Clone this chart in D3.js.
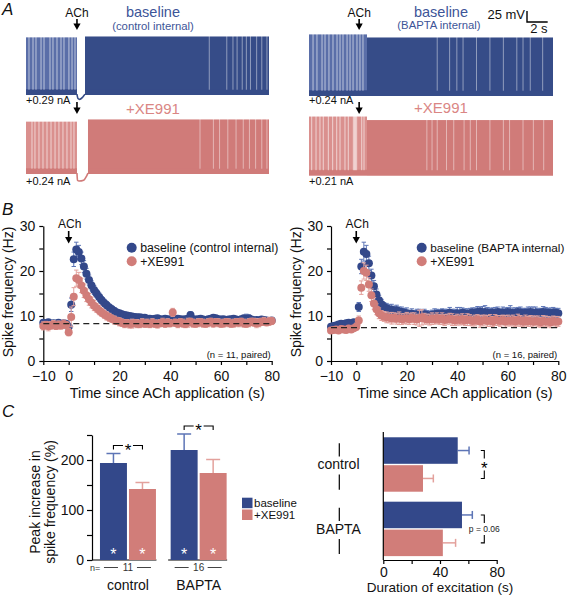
<!DOCTYPE html>
<html><head><meta charset="utf-8">
<script src="https://cdn.jsdelivr.net/npm/d3@7"></script>
<style>
body{margin:0;background:#fff}
svg{display:block}
text{font-family:"Liberation Sans",Arial,Helvetica,sans-serif}
</style>
</head><body>
<svg id="c" width="572" height="597"></svg>
<script>
// ================= DATA =================
// ---- Panel A: example traces (time in s from trace start, voltage in mV) ----
const traceNames = ["control baseline", "control +XE991", "BAPTA baseline", "BAPTA +XE991"];
const traceDuration = 23.6;
const traceAchArrow = [4.95, 4.95, 4.85, 4.85];
const tracePreEnd = [4.95, 4.95, 5.61, 5.61];
const tracePostStart = [5.73, 6.02, 5.61, 5.61];
const tracePeakPre = [61, 49, 70, 64];
const tracePeakPost = [63, 54, 63, 56];
const traceTrough = [-70, -70, -70, -70];
const traceHoldCurrent = ["+0.29 nA", "+0.24 nA", "+0.24 nA", "+0.21 nA"];
const preGaps = [
  [0.29, 0.68, 0.97, 1.46, 1.75, 2.33, 2.62, 3.01, 3.40, 3.69, 4.17, 4.47, 4.76],
  [0.58, 0.87, 1.26, 1.65, 2.04, 2.43, 2.82, 3.20, 3.59, 3.98, 4.37, 4.66],
  [0.39, 0.77, 1.26, 1.55, 1.93, 2.32, 2.71, 3.00, 3.29, 3.68, 3.97, 4.26, 4.64, 4.93, 5.22],
  [0.26, 0.68, 1.06, 1.38, 1.87, 2.29, 2.68, 3.00, 3.48, 3.80, 4.29, 4.40, 4.50, 4.61, 5.10, 5.32]
];
const postGaps = [
  [17.8, 19.5, 20.1, 20.5, 21.0, 21.4, 21.8, 22.4, 22.9, 23.4],
  [16.9, 18.2, 18.8, 19.6, 20.4, 21.1, 21.7, 22.3, 22.9, 23.4],
  [12.4, 13.6, 14.3, 14.9, 16.2, 17.5, 18.8, 20.1, 20.7, 21.4, 22.6],
  [11.4, 11.9, 12.4, 13.3, 14.0, 15.0, 15.6, 16.2, 17.5, 18.8, 19.4, 20.7, 21.7, 22.7]
];
const traceDips = [
  [[4.95, -68], [5.05, -78], [5.2, -80], [5.5, -75], [5.73, -68]],
  [[4.95, -68], [5.0, -84], [5.15, -86], [5.6, -84], [5.9, -74], [6.02, -68]],
  [],
  []
];

// ---- Panel B: spike frequency time course (Hz) ----
const timeB = d3.range(-10, 81);
const ctlBaseline = [
  8.5, 8.3, 8.6, 8.2, 8.4, 8.3, 8.5, 8.2, 8.4, 8.3,
  7.6, 12.5, 22.6, 24.8, 24.2, 22.8, 21.0, 19.4, 18.0, 16.8, 15.8,
  15.0, 14.2, 13.5, 12.9, 12.4, 11.9, 11.5, 11.1, 10.8, 10.6,
  10.4, 10.2, 10.1, 10.0, 9.9, 9.8, 9.7, 9.7, 9.6, 9.6,
  9.4, 9.4, 9.3, 9.4, 9.5, 9.3, 9.2, 9.4, 9.3, 9.2,
  9.3, 9.2, 9.4, 9.3, 9.2, 9.3, 9.4, 10.2, 9.3, 9.2,
  9.3, 9.4, 9.2, 9.1, 9.3, 9.4, 9.6, 9.5, 9.3, 9.2,
  9.3, 9.1, 9.2, 9.3, 9.4, 9.2, 9.1, 9.3, 9.5, 9.4,
  9.5, 9.2, 9.0, 9.1, 9.0, 9.2, 9.1, 9.0, 8.9, 9.0
];
const ctlBaselineErr = [
  0.6, 0.5, 0.6, 0.5, 0.6, 0.5, 0.6, 0.5, 0.6, 0.5,
  0.8, 1.5, 1.6, 1.6, 1.5, 1.4, 1.3, 1.2, 1.1, 1.0, 1.0,
  0.9, 0.9, 0.8, 0.8, 0.8, 0.7, 0.7, 0.7, 0.6, 0.6,
  0.6, 0.5, 0.6, 0.5, 0.6, 0.5, 0.6, 0.5, 0.6, 0.5,
  0.5, 0.6, 0.5, 0.6, 0.5, 0.6, 0.5, 0.6, 0.5, 0.6,
  0.6, 0.5, 0.6, 0.5, 0.6, 0.5, 0.6, 0.7, 0.5, 0.6,
  0.5, 0.6, 0.5, 0.6, 0.5, 0.6, 0.5, 0.6, 0.5, 0.6,
  0.5, 0.6, 0.5, 0.6, 0.5, 0.6, 0.5, 0.6, 0.5, 1.0,
  0.7, 0.6, 0.5, 0.6, 0.5, 0.6, 0.5, 0.6, 0.5, 0.6
];
const ctlXE = [
  7.8, 8.0, 7.7, 7.9, 8.1, 7.8, 8.0, 7.9, 8.2, 8.0,
  6.4, 9.8, 14.3, 18.4, 18.0, 16.8, 15.6, 14.6, 13.7, 13.0, 12.3,
  11.8, 11.3, 10.8, 10.4, 10.0, 9.7, 9.4, 9.1, 8.9, 8.7,
  8.5, 8.3, 8.4, 8.2, 8.3, 8.4, 8.3, 8.2, 8.5, 8.3,
  8.4, 8.2, 8.5, 8.3, 8.2, 8.4, 8.6, 8.3, 8.5, 8.4,
  10.8, 8.5, 8.3, 8.6, 8.4, 8.2, 8.5, 8.7, 8.4, 8.3,
  8.5, 8.6, 8.4, 8.3, 8.5, 8.7, 8.4, 8.6, 8.5, 8.3,
  8.4, 8.6, 8.5, 8.3, 8.4, 8.6, 8.5, 8.7, 8.4, 8.3,
  8.5, 8.7, 8.6, 8.4, 8.5, 8.7, 8.8, 8.6, 8.8, 8.9
];
const ctlXEErr = [
  0.9, 0.8, 1.0, 0.8, 0.9, 0.8, 0.9, 0.8, 0.9, 0.8,
  0.8, 2.2, 2.0, 1.8, 1.7, 1.6, 1.5, 1.4, 1.3, 1.2, 1.1,
  1.0, 1.0, 0.9, 0.9, 0.9, 0.9, 0.8, 0.9, 0.8, 0.9,
  0.8, 0.9, 0.8, 0.9, 1.0, 0.8, 0.9, 0.8, 0.9, 0.8,
  0.9, 0.8, 0.9, 0.8, 0.9, 0.8, 0.9, 0.8, 0.9, 0.8,
  0.9, 0.8, 0.9, 0.8, 0.9, 0.8, 1.0, 0.8, 0.9, 0.8,
  0.9, 0.8, 0.9, 0.8, 0.9, 0.8, 0.9, 0.8, 0.9, 0.8,
  0.9, 0.8, 0.9, 0.8, 0.9, 0.8, 0.9, 0.8, 0.9, 0.8,
  0.9, 0.8, 0.9, 1.0, 0.9, 0.8, 0.9, 0.8, 0.9, 0.8
];
const baptaBaseline = [
  7.6, 7.8, 7.9, 8.1, 8.3, 8.2, 8.4, 8.5, 8.3, 8.6,
  8.4, 12.0, 21.0, 24.3, 23.8, 21.7, 19.0, 16.6, 14.8, 13.5, 12.6,
  12.0, 11.7, 11.5, 11.4, 11.2, 11.3, 11.0, 10.9, 10.7, 10.6,
  10.3, 10.5, 10.2, 10.4, 10.3, 10.1, 10.4, 10.2, 10.0, 10.3,
  10.4, 10.5, 10.3, 10.6, 10.4, 10.5, 10.7, 10.5, 10.4, 10.6,
  10.5, 10.7, 10.6, 10.4, 10.6, 10.8, 10.7, 10.9, 11.0, 10.8,
  10.9, 10.7, 10.6, 10.8, 10.7, 10.9, 10.6, 10.8, 10.7, 10.9,
  10.8, 10.6, 10.7, 10.9, 10.8, 10.6, 10.7, 10.8, 10.9, 10.7,
  10.8, 10.6, 10.7, 10.9, 10.8, 10.7, 10.6, 10.8, 10.7, 10.6
];
const baptaBaselineErr = [
  0.5, 0.6, 0.5, 0.6, 0.5, 0.6, 0.5, 0.6, 0.5, 0.6,
  0.6, 1.0, 1.6, 2.1, 1.9, 1.6, 1.4, 1.3, 1.2, 1.1, 1.1,
  1.0, 1.1, 1.0, 1.2, 1.0, 1.1, 1.0, 1.1, 1.0, 1.2,
  1.0, 1.1, 1.0, 1.1, 1.2, 1.0, 1.1, 1.0, 1.1, 1.0,
  1.2, 1.0, 1.1, 1.0, 1.1, 1.0, 1.2, 1.0, 1.1, 1.3,
  1.4, 1.1, 1.0, 1.2, 1.1, 1.0, 1.1, 1.2, 1.0, 1.3,
  1.4, 1.2, 1.1, 1.0, 1.2, 1.1, 1.0, 1.2, 1.1, 1.0,
  1.5, 1.2, 1.1, 1.0, 1.2, 1.1, 1.0, 1.2, 1.1, 1.3,
  1.2, 1.1, 1.0, 1.2, 1.1, 1.0, 1.2, 1.1, 1.0, 1.1
];
const baptaXE = [
  6.8, 6.9, 7.0, 6.8, 7.1, 7.0, 6.9, 7.2, 7.0, 7.3,
  7.6, 9.0, 16.3, 20.0, 19.6, 17.0, 14.6, 12.8, 11.5, 10.6, 10.1,
  9.9, 9.7, 9.6, 9.5, 9.6, 9.4, 9.5, 9.3, 9.4, 9.5,
  9.3, 9.6, 9.4, 9.2, 9.5, 9.7, 9.4, 9.3, 9.2, 9.4,
  9.3, 9.5, 9.2, 9.4, 9.1, 9.3, 9.4, 9.2, 9.0, 9.2,
  9.1, 9.3, 9.0, 9.2, 9.1, 8.9, 9.0, 9.2, 8.8, 9.0,
  9.1, 8.9, 9.0, 8.8, 9.1, 9.0, 8.9, 9.1, 8.8, 9.0,
  8.9, 9.0, 8.8, 9.1, 8.9, 8.7, 9.0, 8.8, 8.9, 8.7,
  8.9, 8.8, 8.6, 8.9, 8.7, 8.8, 8.6, 8.9, 8.7, 8.8
];
const baptaXEErr = [
  0.6, 0.5, 0.6, 0.5, 0.6, 0.5, 0.6, 0.5, 0.6, 0.5,
  0.8, 1.0, 1.5, 1.8, 1.7, 1.5, 1.4, 1.3, 1.2, 1.2, 1.1,
  1.1, 1.2, 1.1, 1.3, 1.1, 1.2, 1.4, 1.2, 1.1, 1.3,
  1.2, 1.1, 1.3, 1.2, 1.8, 1.7, 1.2, 1.1, 1.2, 1.3,
  1.1, 1.2, 1.1, 1.3, 1.2, 1.1, 1.2, 1.3, 1.1, 1.2,
  1.1, 1.2, 1.1, 1.3, 1.2, 1.1, 1.2, 1.1, 1.3, 1.2,
  1.1, 1.2, 1.3, 1.1, 1.2, 1.1, 1.2, 1.1, 1.3, 1.2,
  1.1, 1.2, 1.1, 1.3, 1.2, 1.1, 1.2, 1.1, 1.2, 1.3,
  1.1, 1.2, 1.1, 1.2, 1.3, 1.1, 1.2, 1.1, 1.2, 1.1
];
const ctlPreLevel = 8.3;
const baptaPreLevel = 7.4;
const xTicksB = [-10, 0, 10, 20, 30, 40, 50, 60, 70, 80];
const xLabelsB = [-10, 0, 20, 40, 60, 80];
const yTicksB = [0, 5, 10, 15, 20, 25, 30];
const yLabelsB = [0, 10, 20, 30];

// ---- Panel C ----
const groupsC = ["control", "BAPTA"];
const seriesC = ["baseline", "+XE991"];
const peakBaseline = [194, 220];
const peakBaselineErr = [19, 32];
const peakXE = [142, 174];
const peakXEErr = [13, 27];
const peakN = ["11", "16"];
const peakSig = ["*", "*"];
const yTicksPeak = [0, 50, 100, 150, 200, 250];
const yLabelsPeak = [0, 100, 200];
const durBaseline = [52.5, 55.5];
const durBaselineErr = [8.0, 7.3];
const durXE = [28, 42];
const durXEErr = [7.3, 9.0];
const durSig = ["*", "p = 0.06"];
const xTicksDur = [0, 20, 40, 60, 80];
const xLabelsDur = [0, 40, 80];

// ================= DRAWING =================
const svg = d3.select("#c");
const BLUE = "#33488a", PINK = "#d17d79";
const BLUE_ERR = "#5d75b6", PINK_ERR = "#e3a19c";
const BLUE_TXT = "#3d5598", PINK_TXT = "#da8684";
const TR_BLUE = "#364c88", TR_BLUE_L = "#5a6ea8";
const TR_PINK = "#d07b79", TR_PINK_L = "#da908e";

function txt(g, x, y, s, o = {}) {
  const t = g.append("text").attr("x", x).attr("y", y).text(s)
    .attr("font-size", o.size || 14).attr("fill", o.fill || "#111")
    .attr("text-anchor", o.anchor || "start");
  if (o.italic) t.attr("font-style", "italic");
  if (o.rotate) t.attr("transform", `rotate(${o.rotate},${x},${y})`);
  return t;
}
function arrow(g, x, y1, y2) {
  g.append("line").attr("x1", x).attr("x2", x).attr("y1", y1).attr("y2", y2 - 5)
    .attr("stroke", "#000").attr("stroke-width", 1.6);
  g.append("path").attr("d", `M${x - 3.6},${y2 - 6.5}L${x + 3.6},${y2 - 6.5}L${x},${y2}Z`).attr("fill", "#000");
}

// ---------- Panel A ----------
const gA = svg.append("g");
txt(gA, 2, 15, "A", {size: 17, italic: true});
const slots = [
  {x0: 26, x1: 269, y0: 64.2}, {x0: 26, x1: 269, y0: 143.2},
  {x0: 309, x1: 553, y0: 65.2}, {x0: 309, x1: 553, y0: 144.7}
];
traceNames.forEach((nm, i) => {
  const s = slots[i];
  const x = d3.scaleLinear().domain([0, traceDuration]).range([s.x0, s.x1]);
  const y = d3.scaleLinear().domain([0, 25]).range([s.y0, s.y0 - 11]);
  const dark = i % 2 === 0 ? TR_BLUE : TR_PINK;
  const light = i % 2 === 0 ? TR_BLUE_L : TR_PINK_L;
  const g = gA.append("g");
  const tr = traceTrough[i];
  g.append("rect").attr("x", x(0)).attr("width", x(tracePreEnd[i]) - x(0))
    .attr("y", y(tracePeakPre[i])).attr("height", y(tr) - y(tracePeakPre[i])).attr("fill", light);
  g.append("rect").attr("x", x(tracePostStart[i])).attr("width", x(traceDuration) - x(tracePostStart[i]))
    .attr("y", y(tracePeakPost[i])).attr("height", y(tr) - y(tracePeakPost[i])).attr("fill", dark);
  [[0, tracePreEnd[i]], [tracePostStart[i], traceDuration]].forEach(([a, b]) => {
    g.append("rect").attr("x", x(a)).attr("width", x(b) - x(a))
      .attr("y", y(-57)).attr("height", y(tr) - y(-57)).attr("fill", dark);
  });
  preGaps[i].forEach(t => g.append("line").attr("x1", x(t)).attr("x2", x(t))
    .attr("y1", y(tracePeakPre[i]) - 1).attr("y2", y(-58)).attr("stroke", "#fff")
    .attr("stroke-width", 1).attr("stroke-opacity", 0.6));
  postGaps[i].forEach(t => g.append("line").attr("x1", x(t)).attr("x2", x(t))
    .attr("y1", y(tracePeakPost[i]) - 1).attr("y2", y(-58)).attr("stroke", "#fff")
    .attr("stroke-width", 0.9).attr("stroke-opacity", 0.5));
  if (traceDips[i].length) {
    g.append("path").attr("d", d3.line().x(d => x(d[0])).y(d => y(d[1])).curve(d3.curveMonotoneX)(traceDips[i]))
      .attr("fill", "none").attr("stroke", dark).attr("stroke-width", 1.6);
  }
  txt(gA, s.x0, (i % 2 === 0) ? 104 : 185, traceHoldCurrent[i], {size: 11});
  const ax = x(traceAchArrow[i]);
  if (i % 2 === 0) { txt(gA, ax, 16.5, "ACh", {size: 12, anchor: "middle"}); arrow(gA, ax, 19, 30); }
  else arrow(gA, ax, 102, 114);
});
txt(gA, 153, 17, "baseline", {size: 14.5, anchor: "middle", fill: BLUE_TXT});
txt(gA, 153, 29.5, "(control internal)", {size: 11.3, anchor: "middle", fill: BLUE_TXT});
txt(gA, 153, 114, "+XE991", {size: 15, anchor: "middle", fill: PINK_TXT});
txt(gA, 441, 16.5, "baseline", {size: 14.5, anchor: "middle", fill: BLUE_TXT});
txt(gA, 439, 29, "(BAPTA internal)", {size: 11.3, anchor: "middle", fill: BLUE_TXT});
txt(gA, 441, 113, "+XE991", {size: 15, anchor: "middle", fill: PINK_TXT});
// scale bar (25 mV, 2 s)
{
  const sx = d3.scaleLinear().domain([0, traceDuration]).range([309, 553]);
  const sy = d3.scaleLinear().domain([0, 25]).range([22, 11]);
  const x0 = 527;
  gA.append("path").attr("d", `M${x0},${sy(25)}V${sy(0)}H${x0 + sx(2) - sx(0)}`)
    .attr("fill", "none").attr("stroke", "#000").attr("stroke-width", 1.4);
  txt(gA, 525, 18.5, "25 mV", {size: 13, anchor: "end"});
  txt(gA, 547.5, 33, "2 s", {size: 13, anchor: "end"});
}

// ---------- Panel B ----------
txt(svg, 2, 215, "B", {size: 17, italic: true});
const fmt = d3.format("d");
function timeCourse(o) {
  const g = svg.append("g");
  const x = d3.scaleLinear().domain([-10, 80]).range([o.x0, o.x1]);
  const y = d3.scaleLinear().domain([0, 30]).range([361, 226]);
  const ax = g.append("g").attr("transform", "translate(0,361)")
    .call(d3.axisBottom(x).tickValues(xTicksB).tickFormat(d => xLabelsB.includes(d) ? fmt(d) : "")
      .tickSize(4).tickSizeOuter(0).tickPadding(6));
  const ay = g.append("g").attr("transform", `translate(${o.x0},0)`)
    .call(d3.axisLeft(y).tickValues(yTicksB).tickFormat(d => yLabelsB.includes(d) ? fmt(d) : "")
      .tickSize(4).tickSizeOuter(0).tickPadding(4));
  [ax, ay].forEach(a => {
    a.selectAll("path,line").attr("stroke", "#000").attr("stroke-width", 1.2);
    a.selectAll("text").attr("font-size", 14).attr("fill", "#111").attr("font-family", null);
  });
  const series = [
    {v: o.base, e: o.baseErr, c: BLUE, ec: BLUE_ERR},
    {v: o.xe, e: o.xeErr, c: PINK, ec: PINK_ERR}
  ];
  series.forEach(s => {
    const pts = timeB.map((t, k) => ({t, v: s.v[k], e: s.e[k]}));
    const eg = g.append("g").attr("stroke", s.ec).attr("stroke-width", 1);
    pts.forEach(p => {
      const xx = x(p.t);
      eg.append("line").attr("x1", xx).attr("x2", xx).attr("y1", y(p.v - p.e)).attr("y2", y(p.v + p.e));
      eg.append("line").attr("x1", xx - 2.2).attr("x2", xx + 2.2).attr("y1", y(p.v + p.e)).attr("y2", y(p.v + p.e));
      eg.append("line").attr("x1", xx - 2.2).attr("x2", xx + 2.2).attr("y1", y(p.v - p.e)).attr("y2", y(p.v - p.e));
    });
    g.append("g").selectAll("circle").data(pts).join("circle")
      .attr("cx", p => x(p.t)).attr("cy", p => y(p.v)).attr("r", 4).attr("fill", s.c);
  });
  g.append("line").attr("x1", x(-10)).attr("x2", x(80)).attr("y1", y(o.level)).attr("y2", y(o.level))
    .attr("stroke", "#222").attr("stroke-width", 1.2).attr("stroke-dasharray", "6,4");
  txt(g, x(0) + 1, 227.5, "ACh", {size: 12, anchor: "middle"});
  arrow(g, x(0), 231, 243.5);
  g.append("circle").attr("cx", o.legX).attr("cy", 247.7).attr("r", 5).attr("fill", BLUE);
  g.append("circle").attr("cx", o.legX).attr("cy", 261.3).attr("r", 5).attr("fill", PINK);
  txt(g, o.legX + 8.5, 252, o.legText, {size: o.legSize});
  txt(g, o.legX + 8.5, 265.6, "+XE991", {size: 12.3});
  txt(g, o.x1 - 1, 357.5, o.nText, {size: 9.5, anchor: "end"});
  txt(g, o.x0 - 30, 292, "Spike frequency (Hz)", {size: 14, anchor: "middle", rotate: -90});
  txt(g, o.x0 + 124, 398, "Time since ACh application (s)", {size: 14.5, anchor: "middle"});
}
timeCourse({x0: 43.3, x1: 271.7, base: ctlBaseline, baseErr: ctlBaselineErr, xe: ctlXE, xeErr: ctlXEErr,
  level: ctlPreLevel, legX: 131.7, legSize: 12.3, legText: "baseline (control internal)", nText: "(n = 11, paired)"});
timeCourse({x0: 331, x1: 558.3, base: baptaBaseline, baseErr: baptaBaselineErr, xe: baptaXE, xeErr: baptaXEErr,
  level: baptaPreLevel, legX: 421.7, legSize: 11.8, legText: "baseline (BAPTA internal)", nText: "(n = 16, paired)"});

// ---------- Panel C (left): peak increase ----------
txt(svg, 2, 417, "C", {size: 17, italic: true});
{
  const g = svg.append("g");
  const yC = d3.scaleLinear().domain([0, 250]).range([560, 435]);
  const xG = d3.scaleBand().domain(groupsC).range([92.9, 233.7]).paddingInner(0.208).paddingOuter(0.1);
  const xS = d3.scaleBand().domain(seriesC).range([0, xG.bandwidth()]).paddingInner(0.07);
  const ay = g.append("g").attr("transform", "translate(92,0)")
    .call(d3.axisLeft(yC).tickValues(yTicksPeak).tickFormat(d => yLabelsPeak.includes(d) ? fmt(d) : "")
      .tickSize(5).tickSizeOuter(0).tickPadding(3));
  ay.selectAll("path,line").attr("stroke", "#000").attr("stroke-width", 1.2);
  ay.selectAll("text").attr("font-size", 14).attr("fill", "#111").attr("font-family", null);
  const vals = [[peakBaseline, peakBaselineErr, BLUE, BLUE_ERR], [peakXE, peakXEErr, PINK, PINK_ERR]];
  groupsC.forEach((grp, gi) => {
    const gx = xG(grp);
    g.append("line").attr("x1", gi === 0 ? 92 : gx - 2.5).attr("x2", gx + xG.bandwidth() + 0.5)
      .attr("y1", 560).attr("y2", 560).attr("stroke", "#000").attr("stroke-width", 1.2);
    const centers = [];
    vals.forEach(([v, e, c, ec], si) => {
      const bx = gx + xS(seriesC[si]);
      const bw = xS.bandwidth();
      const cx = bx + bw / 2;
      centers.push(cx);
      g.append("line").attr("x1", cx).attr("x2", cx).attr("y1", yC(v[gi])).attr("y2", yC(v[gi] + e[gi]))
        .attr("stroke", ec).attr("stroke-width", 1.5);
      g.append("line").attr("x1", cx - 7).attr("x2", cx + 7).attr("y1", yC(v[gi] + e[gi])).attr("y2", yC(v[gi] + e[gi]))
        .attr("stroke", ec).attr("stroke-width", 1.5);
      g.append("rect").attr("x", bx).attr("width", bw).attr("y", yC(v[gi])).attr("height", 560 - yC(v[gi])).attr("fill", c);
      txt(g, cx, 560, "*", {size: 16, anchor: "middle", fill: "#fff"});
    });
    const by = Math.min(yC(peakBaseline[gi] + peakBaselineErr[gi]), yC(peakXE[gi] + peakXEErr[gi])) - 8;
    const mid = (centers[0] + centers[1]) / 2;
    g.append("path").attr("d", `M${centers[0]},${by + 4}V${by}H${mid - 5}M${mid + 5},${by}H${centers[1]}V${by + 4}`)
      .attr("fill", "none").attr("stroke", "#000").attr("stroke-width", 1.1);
    txt(g, mid, by + 10, peakSig[gi], {size: 17, anchor: "middle", fill: "#000"});
    const gc = gx + xG.bandwidth() / 2;
    g.append("path").attr("d", `M${gc - 24},567.5H${gc - 10}M${gc + 9},567.5H${gc + 23}`)
      .attr("stroke", "#444").attr("stroke-width", 1);
    txt(g, gc, 571, peakN[gi], {size: 10, anchor: "middle", fill: "#333"});
    txt(g, gc, 590, grp, {size: 14, anchor: "middle"});
  });
  txt(g, 90, 570.5, "n=", {size: 9, fill: "#333"});
  txt(g, 39.5, 502, "Peak increase in", {size: 14, anchor: "middle", rotate: -90});
  txt(g, 55, 502, "spike frequency (%)", {size: 14, anchor: "middle", rotate: -90});
  g.append("rect").attr("x", 242).attr("y", 497.7).attr("width", 10.5).attr("height", 10.5).attr("fill", BLUE);
  g.append("rect").attr("x", 242).attr("y", 509.5).attr("width", 10.5).attr("height", 10.5).attr("fill", PINK);
  txt(g, 254, 507, seriesC[0], {size: 11.5});
  txt(g, 254, 519.2, seriesC[1], {size: 11.5});
}

// ---------- Panel C (right): duration of excitation ----------
{
  const g = svg.append("g");
  const xD = d3.scaleLinear().domain([0, 80]).range([383.3, 496.7]);
  const yG = d3.scaleBand().domain(groupsC).range([432, 561.4]).paddingInner(0.155).paddingOuter(0.082);
  const yS = d3.scaleBand().domain(seriesC).range([0, yG.bandwidth()]).paddingInner(0.05);
  const vals = [[durBaseline, durBaselineErr, BLUE, BLUE_ERR], [durXE, durXEErr, PINK, PINK_ERR]];
  groupsC.forEach((grp, gi) => {
    const gy = yG(grp);
    const centers = [];
    vals.forEach(([v, e, c, ec], si) => {
      const by = gy + yS(seriesC[si]);
      const bh = yS.bandwidth();
      const cy = by + bh / 2;
      centers.push(cy);
      g.append("line").attr("x1", xD(v[gi])).attr("x2", xD(v[gi] + e[gi])).attr("y1", cy).attr("y2", cy)
        .attr("stroke", ec).attr("stroke-width", 1.5);
      g.append("line").attr("x1", xD(v[gi] + e[gi])).attr("x2", xD(v[gi] + e[gi])).attr("y1", cy - 4).attr("y2", cy + 4)
        .attr("stroke", ec).attr("stroke-width", 1.5);
      g.append("rect").attr("x", xD(0)).attr("width", xD(v[gi]) - xD(0)).attr("y", by).attr("height", bh).attr("fill", c);
    });
    const gc = gy + yG.bandwidth() / 2;
    txt(g, 338.5, gc + 5, grp, {size: 14, anchor: "middle"});
    g.append("path").attr("d", `M339.3,${gy + 6}V${gc - 8}M339.3,${gc + 10}V${gy + yG.bandwidth() - 2}`)
      .attr("stroke", "#000").attr("stroke-width", 1.2);
    const bx = 484.3, mid = (centers[0] + centers[1]) / 2;
    g.append("path").attr("d", `M${bx - 3.5},${centers[0]}H${bx}V${mid - 6}M${bx},${mid + 6}V${centers[1]}H${bx - 3.5}`)
      .attr("fill", "none").attr("stroke", "#000").attr("stroke-width", 1.1);
    if (gi === 0) txt(g, bx, mid + 10, durSig[gi], {size: 17, anchor: "middle", fill: "#000"});
    else txt(g, bx, mid + 3, durSig[gi], {size: 8.5, anchor: "middle", fill: "#222"});
  });
  const ax = g.append("g").attr("transform", "translate(0,560)")
    .call(d3.axisBottom(xD).tickValues(xTicksDur).tickFormat(d => xLabelsDur.includes(d) ? fmt(d) : "")
      .tickSize(4).tickSizeOuter(0).tickPadding(3));
  ax.selectAll("path,line").attr("stroke", "#000").attr("stroke-width", 1.2);
  ax.selectAll("text").attr("font-size", 14).attr("fill", "#111").attr("font-family", null);
  g.append("line").attr("x1", 383.3).attr("x2", 383.3).attr("y1", 432).attr("y2", 560)
    .attr("stroke", "#000").attr("stroke-width", 1.2);
  txt(g, 440, 592, "Duration of excitation (s)", {size: 13.5, anchor: "middle"});
}
</script>
</body></html>
